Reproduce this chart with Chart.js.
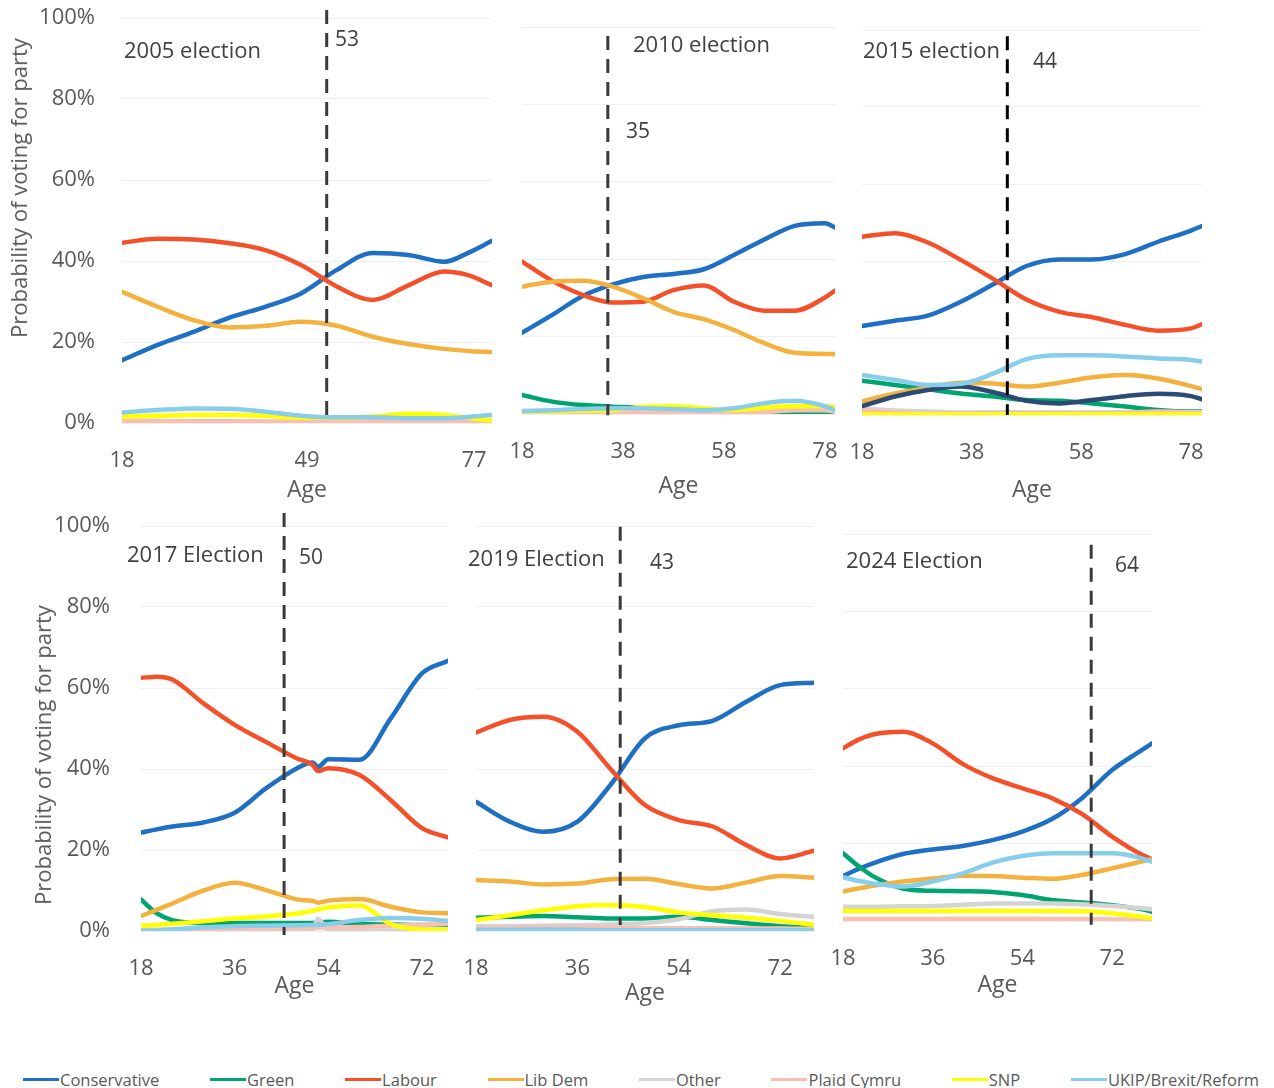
<!DOCTYPE html>
<html>
<head>
<meta charset="utf-8">
<title>Probability of voting for party by age</title>
<script src="https://cdn.jsdelivr.net/npm/chart.js@4.4.0/dist/chart.umd.min.js"></script>
<style>
  body { margin: 0; background: #fff; }
  #stage { position: relative; width: 1274px; height: 1088px; overflow: hidden; font-family: "Open Sans", sans-serif; }
  #stage canvas { position: absolute; }
  .lbl { position: absolute; white-space: nowrap; transform: translateY(-50%); color: #404040; font-size: 22px; line-height: 1; }
  .num { position: absolute; white-space: nowrap; transform: translateY(-50%); color: #404040; font-size: 21px; line-height: 1; }
  .ytitle { position: absolute; white-space: nowrap; transform: translate(-50%, -50%) rotate(-90deg); color: #595959; font-size: 22px; line-height: 1; }
  #legend { position: absolute; left: 23px; width: 1236px; top: 1069px; height: 20px; display: flex; justify-content: space-between; align-items: center; }
  #legend .item { display: flex; align-items: center; color: #595959; font-size: 16.5px; }
  #legend .swatch { width: 36px; height: 3px; margin-right: 1px; }
</style>
</head>
<body>
<div id="stage"><div id="legend"></div></div>
<script>
// series order everywhere: Conservative, Green, Labour, Lib Dem, Other, Plaid Cymru, SNP, UKIP/Brexit/Reform
const partyNames = ['Conservative', 'Green', 'Labour', 'Lib Dem', 'Other', 'Plaid Cymru', 'SNP', 'UKIP/Brexit/Reform'];
const partyColours = ['#1f6fc4', '#00a46f', '#f4512b', '#f3b23f', '#d3d3d3', '#f9c0b2', '#ffff00', '#88ceea'];

// ---- 2005 ----
const ages05 = [18, 24, 30, 36, 42, 48, 54, 60, 66, 72, 76, 80];
const ticks05 = [18, 49, 77];
const con05 = [15.5, 19.3, 22.5, 26, 28.7, 32, 37.8, 42, 41.5, 39.8, 42, 45];
const grn05 = [0.3, 0.3, 0.3, 0.3, 0.2, 0.1, 0, 0, 0, 0, 0, 0];
const lab05 = [44.5, 45.5, 45.3, 44.4, 42.7, 39, 33.7, 30.4, 34, 37.4, 36.5, 34];
const ld05 = [32.4, 28.7, 25.4, 23.6, 24, 25, 24, 21.3, 19.5, 18.3, 17.8, 17.5];
const oth05 = [0.2, 0.2, 0.2, 0.2, 0.2, 0.2, 0.2, 0.2, 0.2, 0.2, 0.2, 0.2];
const pc05 = [0.5, 0.5, 0.4, 0.4, 0.4, 0.4, 0.4, 0.5, 0.5, 0.5, 0.5, 0.4];
const snp05 = [1.6, 1.8, 2, 2, 1.8, 1.3, 1.3, 1.6, 2.3, 2, 1.3, 0.6];
const ukip05 = [2.6, 3.2, 3.6, 3.5, 2.8, 1.8, 1.4, 1.4, 1.2, 1.2, 1.5, 2.0];

// ---- 2010 ----
const ages10 = [18, 24, 30, 36, 42, 48, 54, 60, 66, 72, 78, 80];
const ticks10 = [18, 38, 58, 78];
const con10 = [21, 25.6, 30.5, 33.5, 35.4, 36.2, 37.4, 41.1, 45.1, 48.6, 49.3, 48.2];
const grn10 = [4.9, 3.2, 2.3, 1.9, 1.7, 1.5, 1, 0.8, 0.3, 0, 0, 0];
const lab10 = [39.4, 34.4, 30.8, 28.8, 29, 32, 33.2, 29, 26.7, 26.7, 30.1, 31.9];
const ld10 = [32.9, 34.2, 34.4, 32.9, 29.9, 26.4, 24.5, 21.7, 18.3, 15.8, 15.5, 15.5];
const oth10 = [0.3, 0.3, 0.3, 0.3, 0.3, 0.3, 0.4, 0.6, 1, 1.5, 1.5, 1.3];
const pc10 = [0.3, 0.3, 0.3, 0.3, 0.3, 0.5, 0.3, 0.3, 0.5, 1, 1, 0.6];
const snp10 = [0.6, 0.7, 0.9, 1, 1.9, 2, 1.5, 1, 1.6, 2, 2, 1.9];
const ukip10 = [0.8, 1, 1.3, 1.5, 1.5, 1.3, 1, 1.5, 2.8, 3.4, 2, 1];

// ---- 2015 ----
const ages15 = [18, 24, 30, 36, 42, 48, 54, 60, 66, 72, 78, 80];
const ticks15 = [18, 38, 58, 78];
const con15 = [23.1, 24.5, 25.8, 29.4, 34, 38.7, 40.4, 40.4, 41.8, 45, 47.9, 49.1];
const grn15 = [8.9, 7.8, 6.7, 5.6, 4.8, 3.9, 3.7, 3, 2.2, 1.3, 0.9, 0.9];
const lab15 = [46.3, 47.2, 44.8, 40.3, 35.3, 30, 26.8, 25.4, 23.4, 21.9, 22.5, 23.6];
const ld15 = [3.5, 5.6, 7.0, 8.4, 8.2, 7.4, 8.4, 9.8, 10.4, 9.5, 7.5, 6.7];
const oth15 = [1.7, 1.2, 0.9, 0.7, 0.7, 0.7, 0.7, 0.7, 0.7, 0.7, 0.7, 0.7];
const pc15 = [1.3, 0.6, 0.3, 0.3, 0.3, 0.4, 0.4, 0.4, 0.6, 0.9, 0.6, 0.3];
const snp15 = [0.2, 0.2, 0.2, 0.2, 0.2, 0.2, 0.2, 0.2, 0.2, 0.2, 0.2, 0.2];
const ukip15 = [10.4, 9.1, 7.8, 8.1, 10.8, 14.5, 15.5, 15.5, 15.2, 14.7, 14.3, 13.9];
const unlabelled15 = [2.3, 4.8, 6.5, 7.4, 5.9, 3.7, 3, 3.9, 4.9, 5.5, 4.9, 4.1]; // dark navy line, not in legend

// ---- 2017 ----
const ages17 = [18, 21, 24, 30, 36, 42, 48, 51, 52, 54, 60, 66, 72, 77];
const ticks17 = [18, 36, 54, 72];
const con17 = [24.3, 25.1, 25.8, 26.8, 29.2, 35.2, 40.2, 41.6, 40.5, 42.4, 42.3, 52.5, 63.6, 66.7];
const grn17 = [7.8, 4.4, 2.7, 2, 2, 2, 2, 2, 2.1, 2.3, 1.7, 1.6, 1.5, 1.5];
const lab17 = [62.5, 62.8, 62.1, 56.2, 50.9, 46.7, 42.6, 41, 39.5, 40.2, 38.5, 32.3, 25.4, 23.1];
const ld17 = [3.7, 5.2, 6.8, 10, 11.9, 10.1, 7.8, 7.4, 7.0, 7.5, 7.9, 6, 4.6, 4.4];
const oth17 = [0.1, 0.1, 0.1, 0.1, 0.1, 0.1, 0.1, 0.3, 3, 0.2, 0.1, 0.1, 0.1, 0.1];
const pc17 = [0.3, 0.3, 0.4, 0.5, 0.6, 0.7, 0.8, 0.8, 0.8, 0.9, 1, 1.3, 1.5, 1.8];
const snp17 = [1.3, 1.5, 1.8, 2.4, 3.1, 3.6, 4.3, 5, 5.3, 5.8, 6.3, 1.7, 0.4, 0.3];
const ukip17 = [0.1, 0.2, 0.4, 0.9, 1.2, 1.3, 1.4, 1.5, 1.5, 1.7, 2.7, 3.2, 3, 2.5];

// ---- 2019 ----
const ages19 = [18, 24, 30, 36, 42, 48, 54, 60, 66, 72, 78];
const ticks19 = [18, 36, 54, 72];
const con19 = [31.9, 27, 24.5, 27, 36.3, 47.6, 50.8, 51.9, 56.6, 60.7, 61.3];
const grn19 = [3.3, 3.5, 3.7, 3.4, 3.1, 3.1, 3.5, 2.7, 1.9, 1.2, 0.9];
const lab19 = [49, 52.1, 52.9, 49.2, 39.8, 31.1, 27.4, 25.8, 21.2, 17.9, 19.8];
const ld19 = [12.6, 12.2, 11.5, 11.7, 12.8, 12.9, 11.6, 10.5, 12, 13.6, 13.2];
const oth19 = [1.2, 1.2, 1.3, 1.4, 1.6, 2, 2.9, 4.9, 5.3, 4.2, 3.5];
const pc19 = [0.7, 0.8, 0.9, 0.9, 0.8, 0.7, 0.7, 0.7, 0.7, 0.6, 0.5];
const snp19 = [2.7, 3.9, 5.1, 6.1, 6.4, 5.9, 4.6, 3.9, 3.3, 2.5, 1.5];
const ukip19 = [0.3, 0.3, 0.4, 0.3, 0.2, 0.2, 0.2, 0.2, 0.2, 0.2, 0.2];

// ---- 2024 ----
const ages24 = [18, 21, 24, 30, 36, 42, 48, 54, 60, 66, 72, 78, 80];
const ticks24 = [18, 36, 54, 72];
const con24 = [11.6, 13.4, 14.9, 17.3, 18.5, 19.4, 20.9, 23.1, 26.4, 31.8, 39, 44.2, 45.9];
const grn24 = [17.5, 14.3, 11.6, 8.4, 7.8, 7.7, 7.5, 6.7, 5.4, 4.8, 4.1, 3, 2.4];
const lab24 = [44.6, 46.8, 48.2, 48.9, 45.9, 40.6, 36.9, 34.3, 31.7, 27.6, 21.8, 17.1, 16];
const ld24 = [7.6, 8.4, 9.1, 10.2, 11, 11.7, 11.6, 11.2, 10.9, 11.9, 13.6, 15.4, 16];
const oth24 = [3.7, 3.7, 3.7, 3.8, 3.9, 4.2, 4.5, 4.5, 4.5, 4.3, 3.9, 3.3, 3];
const pc24 = [0.5, 0.5, 0.5, 0.5, 0.5, 0.6, 0.6, 0.6, 0.5, 0.5, 0.4, 0.3, 0.3];
const snp24 = [2.6, 2.6, 2.6, 2.6, 2.6, 2.6, 2.6, 2.6, 2.6, 2.5, 2, 1.1, 0.7];
const ukip24 = [11.3, 10.4, 9.7, 8.9, 10.2, 12.3, 15.1, 16.8, 17.5, 17.5, 17.5, 16.2, 15.3];

// crossover marker per election (dashed line), in axis units
const crossAge = [52.3, 35, 44.5, 45.5, 43.6, 67.8];
const crossText = ['53', '35', '44', '50', '43', '64'];
const crossTop = [102, 97.7, 98.4, 103.2, 99.8, 97.2];
const crossBottom = [0.5, -0.3, 0, -1, 1.5, -1];

const electionTitles = ['2005 election', '2010 election', '2015 election', '2017 Election', '2019 Election', '2024 Election'];

const panels = [
    { ages: ages05, ticks: ticks05, maxAge: 80, series: [con05, grn05, lab05, ld05, oth05, pc05, snp05, ukip05] },
    { ages: ages10, ticks: ticks10, maxAge: 80, series: [con10, grn10, lab10, ld10, oth10, pc10, snp10, ukip10] },
    { ages: ages15, ticks: ticks15, maxAge: 80, series: [con15, grn15, lab15, ld15, oth15, pc15, snp15, ukip15], extra: unlabelled15 },
    { ages: ages17, ticks: ticks17, maxAge: 77, series: [con17, grn17, lab17, ld17, oth17, pc17, snp17, ukip17] },
    { ages: ages19, ticks: ticks19, maxAge: 78, series: [con19, grn19, lab19, ld19, oth19, pc19, snp19, ukip19] },
    { ages: ages24, ticks: ticks24, maxAge: 80, series: [con24, grn24, lab24, ld24, oth24, pc24, snp24, ukip24] },
];

//*****     layout (pixels)     *****/
const plotBoxes = [
    { l: 122, t: 18, r: 492, b: 423 },
    { l: 522, t: 27, r: 835, b: 414 },
    { l: 862, t: 30, r: 1202, b: 415 },
    { l: 141, t: 526, r: 448, b: 931 },
    { l: 476, t: 526, r: 814, b: 931 },
    { l: 843, t: 534, r: 1152, b: 921 },
];
const PAD = 45; // room kept round each plot so tick labels never push the plot area
const Y_AXIS_W = 130;
const xTitleGap = [67, 72, 75, 55, 62, 64]; // centre of "Age" below plot bottom
const yTickPad = [27, 0, 0, 31, 0, 0];
const titlePos = [[124, 49], [633, 43], [863, 49], [127, 553], [468, 557], [846, 559]];
const crossTextPos = [[335, 38], [626, 130], [1033, 60], [299, 556], [650, 561], [1115, 564]];
const yTitlePos = [[18, 188], [42, 755]];
const dashColours = ['#3a3a3a', '#3a3a3a', '#000000', '#3a3a3a', '#3a3a3a', '#3a3a3a'];

const FONT = '"Open Sans", sans-serif';
const stage = document.getElementById('stage');

function addLabel(text, x, y, cls) {
    const div = document.createElement('div');
    div.className = cls;
    div.textContent = text;
    div.style.left = x + 'px';
    div.style.top = y + 'px';
    stage.appendChild(div);
}

function buildPanel(p, i) {
    const box = plotBoxes[i];
    const axisH = xTitleGap[i] + 16;
    const canvas = document.createElement('canvas');
    canvas.width = box.r - box.l + Y_AXIS_W + PAD;
    canvas.height = box.b - box.t + PAD + axisH;
    canvas.style.left = box.l - Y_AXIS_W + 'px';
    canvas.style.top = box.t - PAD + 'px';
    stage.appendChild(canvas);

    const datasets = p.series.map((vals, k) => ({
        label: partyNames[k],
        data: p.ages.map((a, j) => ({ x: a, y: vals[j] })),
        borderColor: partyColours[k],
        borderWidth: 4.5,
        borderCapStyle: 'round',
        pointRadius: 0,
        cubicInterpolationMode: 'monotone',
        order: 20 - k, // later parties on top
    }));
    if (p.extra) {
        datasets.push({
            label: '',
            data: p.ages.map((a, j) => ({ x: a, y: p.extra[j] })),
            borderColor: '#2b4a74',
            borderWidth: 4.5,
            borderCapStyle: 'round',
            pointRadius: 0,
            cubicInterpolationMode: 'monotone',
            order: 13.5,
        });
    }
    datasets.push({
        label: 'crossover',
        data: [{ x: crossAge[i], y: crossTop[i] }, { x: crossAge[i], y: crossBottom[i] }],
        borderColor: dashColours[i],
        borderWidth: 3,
        borderDash: [14, 9],
        pointRadius: 0,
        clip: false,
        order: -1,
    });

    const showY = yTickPad[i] > 0;
    new Chart(canvas, {
        type: 'line',
        data: { datasets },
        options: {
            responsive: false,
            animation: false,
            devicePixelRatio: 1,
            layout: { padding: { left: 0, top: PAD, right: PAD, bottom: 0 } },
            plugins: { legend: { display: false }, tooltip: { enabled: false } },
            scales: {
                x: {
                    type: 'linear',
                    min: 18,
                    max: p.maxAge,
                    afterBuildTicks: (s) => { s.ticks = p.ticks.map((v) => ({ value: v })); },
                    afterFit: (s) => { s.height = axisH; },
                    grid: { display: false, drawTicks: false },
                    border: { display: false },
                    ticks: { padding: 25, color: '#595959', font: { family: FONT, size: 22 }, maxRotation: 0, autoSkip: false },
                    title: { display: true, text: 'Age', color: '#595959', font: { family: FONT, size: 23 }, padding: { top: 0, bottom: 2 } },
                },
                y: {
                    min: 0,
                    max: 100,
                    afterFit: (s) => { s.width = Y_AXIS_W; },
                    grid: { color: '#eeeeee', lineWidth: 1, drawTicks: false },
                    border: { display: false },
                    ticks: {
                        display: showY,
                        stepSize: 20,
                        padding: yTickPad[i],
                        color: '#595959',
                        font: { family: FONT, size: 22 },
                        callback: (v) => v + '%',
                    },
                },
            },
        },
    });

    addLabel(electionTitles[i], titlePos[i][0], titlePos[i][1], 'lbl');
    addLabel(crossText[i], crossTextPos[i][0], crossTextPos[i][1], 'num');
}

panels.forEach(buildPanel);

yTitlePos.forEach(([x, y]) => addLabel('Probability of voting for party', x, y, 'ytitle'));

// legend
const legend = document.getElementById('legend');
partyNames.forEach((name, k) => {
    const item = document.createElement('div');
    item.className = 'item';
    const sw = document.createElement('span');
    sw.className = 'swatch';
    sw.style.background = partyColours[k];
    const txt = document.createElement('span');
    txt.textContent = name;
    item.appendChild(sw);
    item.appendChild(txt);
    legend.appendChild(item);
});
</script>
</body>
</html>
